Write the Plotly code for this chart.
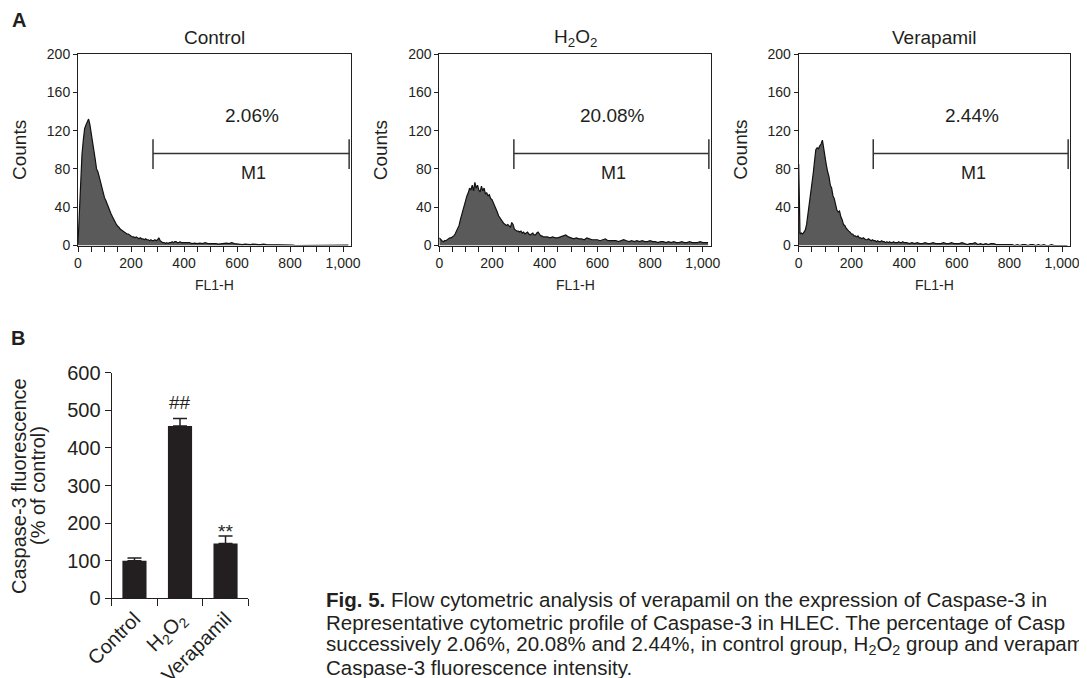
import plotly.graph_objects as go

# ---------------- data ----------------
# FL1-H channels: fine bins up to 395, coarser after
channels_fine = list(range(0, 400, 5))
channels_coarse = list(range(400, 1030, 10))
channels = channels_fine + channels_coarse

control_counts = [
    2, 35, 72, 95, 110, 122, 126, 129, 132, 126,
    118, 108, 100, 90, 80, 77, 72, 66, 61, 54,
    50, 47, 43, 39, 35, 33, 30, 27, 25, 22,
    20, 19, 17, 16, 15, 14, 13, 12, 12, 11,
    10, 9, 9, 8, 9, 8, 7, 8, 7, 7,
    6, 7, 6, 6, 5, 6, 5, 5, 6, 5,
    6, 8, 5, 4, 3, 3, 2, 3, 2, 3,
    3, 4, 3, 4, 4, 3, 3, 4, 3, 3,
    # 400 .. 1020 step 10
    3, 2.5, 3, 2, 2.5, 2, 2.5, 2, 3, 2,
    2, 2.5, 2, 1.5, 2, 2, 2.5, 2, 3, 2,
    1.5, 1.5, 1, 1.5, 1, 1, 1.5, 1, 1, 1,
    1.5, 1, 1, 1, 0.5, 1, 1, 0.5, 1, 0.5,
    0.5, 0.5, 0, 0, 0.5, 0, 0.5, 0, 0, 0,
    0, 0, 0.5, 0, 0.5, 0, 0.5, 0, 0, 0.5,
    0, 0, 0.5,
]

h2o2_counts = [
    8, 6, 5, 4, 5, 5, 6, 7, 8, 8,
    9, 10, 12, 15, 18, 21, 27, 32, 38, 43,
    47, 52, 55, 60, 58, 63, 57, 66, 60, 63,
    58, 56, 62, 57, 60, 54, 55, 52, 53, 49,
    48, 45, 42, 38, 35, 31, 29, 26, 25, 23,
    22, 21, 22, 20, 19, 24, 22, 17, 16, 15,
    15, 14, 15, 13, 14, 12, 13, 14, 12, 11,
    12, 13, 11, 11, 13, 14, 12, 10, 10, 9,
    # 400 .. 1020 step 10
    9, 9, 8, 9, 8, 8, 9, 10, 11, 9,
    8, 7, 8, 7, 7, 6, 8, 7, 6, 6,
    6, 5, 6, 7, 5, 5, 5, 5, 4, 5,
    6, 5, 4, 5, 4, 5, 4, 5, 4, 4,
    5, 4, 4, 3, 4, 4, 3, 4, 3, 4,
    3, 3, 4, 3, 3, 4, 3, 3, 3, 4,
    3, 3, 3,
]

verapamil_counts = [
    85, 12, 13, 12, 14, 16, 22, 32, 42, 55,
    63, 75, 88, 100, 102, 101, 104, 106, 110, 100,
    93, 84, 77, 72, 63, 60, 52, 49, 43, 37,
    35, 36, 30, 27, 22, 21, 18, 16, 15, 14,
    12, 12, 10, 10, 9, 10, 8, 8, 7, 8,
    7, 6, 6, 7, 6, 5, 6, 5, 5, 4,
    5, 4, 4, 5, 4, 4, 3, 4, 3, 4,
    3, 3, 4, 3, 3, 3, 4, 3, 3, 4,
    # 400 .. 1020 step 10
    3, 3, 2, 3, 2, 3, 2, 2, 3, 2,
    2, 3, 2, 2, 2, 3, 2, 2, 3, 2,
    2, 2, 3, 2, 1, 2, 2, 3, 1, 2,
    1, 2, 1, 2, 2, 1, 1, 1, 1, 1,
    1, 1, 0, 1, 0, 1, 1, 0, 1, 1,
    0, 1, 0, 1, 0, 0, 1, 0, 0, 0,
    0, 0, 0,
]

panel_titles = ["Control", "H<sub>2</sub>O<sub>2</sub>", "Verapamil"]
m1_percent = ["2.06%", "20.08%", "2.44%"]
m1_start = 283
m1_end = 1023
m1_level = 96
m1_bar_low = 80
m1_bar_high = 111
m1_pct_pos = (657, 136)
m1_label_pos = (662, 76)

bar_categories = ["Control", "H<sub>2</sub>O<sub>2</sub>", "Verapamil"]
bar_values = [100, 458, 146]
bar_errors = [7, 20, 20]
bar_marks = ["", "##", "**"]

caption_lines = [
    "<b>Fig. 5.</b> Flow cytometric analysis of verapamil on the expression of Caspase-3 in",
    "Representative cytometric profile of Caspase-3 in HLEC. The percentage of Casp",
    "successively 2.06%, 20.08% and 2.44%, in control group, H<sub>2</sub>O<sub>2</sub> group and verapam",
    "Caspase-3 fluorescence intensity.",
]

# ---------------- layout helpers ----------------
W, H = 1087, 678
OFF = 8  # page body margin in the browser
FONT = "Liberation Sans, Arial, Helvetica, sans-serif"
INK = "#231f20"


def px(x):
    return (x - OFF) / W


def py(y):
    return 1 - (y - OFF) / H


hist_x_domains = [(78, 351), (439.3, 710.7), (798.7, 1070)]
hist_y_domain = (54, 245.5)
series = [control_counts, h2o2_counts, verapamil_counts]

fig = go.Figure()
layout = dict(
    width=W, height=H,
    margin=dict(l=0, r=0, t=0, b=0, pad=0, autoexpand=False),
    paper_bgcolor="white", plot_bgcolor="white",
    showlegend=False,
    font=dict(family=FONT, color=INK),
)
annotations = []
shapes = []

for i, (counts, (x0, x1)) in enumerate(zip(series, hist_x_domains)):
    n = i + 1
    xa = "x" if n == 1 else f"x{n}"
    ya = "y" if n == 1 else f"y{n}"
    fig.add_trace(go.Scatter(
        x=channels, y=counts, xaxis=xa, yaxis=ya, mode="lines",
        fill="tozeroy", fillcolor="#5a5a5a",
        line=dict(color="#111111", width=1.2), hoverinfo="skip",
    ))
    layout["xaxis" if n == 1 else f"xaxis{n}"] = dict(
        domain=[px(x0), px(x1)], anchor=ya, range=[0, 1030], automargin=False,
        tickmode="linear", tick0=0, dtick=200, tickformat=",d",
        ticks="outside", ticklen=5, tickwidth=1, tickcolor=INK,
        minor=dict(dtick=50, ticks="outside", ticklen=5, tickwidth=1, tickcolor=INK),
        showline=True, linecolor=INK, linewidth=1, mirror=True,
        showgrid=False, zeroline=False,
        tickfont=dict(size=14, color=INK, family=FONT),
    )
    layout["yaxis" if n == 1 else f"yaxis{n}"] = dict(
        domain=[py(hist_y_domain[1]), py(hist_y_domain[0])], anchor=xa, automargin=False,
        range=[0, 200], tickmode="linear", tick0=0, dtick=40,
        ticks="outside", ticklen=4, tickwidth=1, tickcolor=INK,
        showline=True, linecolor=INK, linewidth=1, mirror=True,
        showgrid=False, zeroline=False,
        tickfont=dict(size=14, color=INK, family=FONT),
    )
    cx = (x0 + x1) / 2
    # title
    annotations.append(dict(text=panel_titles[i], xref="paper", yref="paper",
                            x=px(cx), y=py(38), xanchor="center", yanchor="middle",
                            showarrow=False, font=dict(size=19, color=INK)))
    # Counts
    annotations.append(dict(text="Counts", xref="paper", yref="paper",
                            x=px(x0 - 58), y=py(150), xanchor="center", yanchor="middle",
                            textangle=-90, showarrow=False, font=dict(size=19, color=INK)))
    # FL1-H
    annotations.append(dict(text="FL1-H", xref="paper", yref="paper",
                            x=px(cx), y=py(285), xanchor="center", yanchor="middle",
                            showarrow=False, font=dict(size=14, color=INK)))
    # M1 marker
    line_style = dict(color="#333333", width=1.5)
    shapes.append(dict(type="line", xref=xa, yref=ya, x0=m1_start, x1=m1_end,
                       y0=m1_level, y1=m1_level, line=line_style))
    for xe in (m1_start, m1_end):
        shapes.append(dict(type="line", xref=xa, yref=ya, x0=xe, x1=xe,
                           y0=m1_bar_low, y1=m1_bar_high, line=line_style))
    annotations.append(dict(text=m1_percent[i], xref=xa, yref=ya,
                            x=m1_pct_pos[0], y=m1_pct_pos[1], xanchor="center", yanchor="middle",
                            showarrow=False, font=dict(size=19, color=INK)))
    annotations.append(dict(text="M1", xref=xa, yref=ya,
                            x=m1_label_pos[0], y=m1_label_pos[1], xanchor="center", yanchor="middle",
                            showarrow=False, font=dict(size=18, color=INK)))

# ---------------- panel B ----------------
fig.add_trace(go.Bar(
    x=bar_categories, y=bar_values, xaxis="x4", yaxis="y4", width=0.53,
    marker=dict(color=INK, line=dict(width=0)),
    error_y=dict(type="data", symmetric=False, array=bar_errors,
                 arrayminus=[0] * len(bar_errors), color=INK, thickness=1.5, width=7),
    hoverinfo="skip",
))
layout["xaxis4"] = dict(
    domain=[px(111.7), px(248.3)], anchor="y4", type="category", automargin=False,
    categoryorder="array", categoryarray=bar_categories, range=[-0.5, 2.5],
    tickson="boundaries", ticks="outside", ticklen=7, tickwidth=1.2, tickcolor=INK,
    showline=True, linecolor=INK, linewidth=1.2, showgrid=False, zeroline=False,
    tickangle=-45, tickfont=dict(size=20, color=INK, family=FONT),
)
layout["yaxis4"] = dict(
    domain=[py(598.3), py(372.7)], anchor="x4", range=[0, 600], automargin=False,
    tickmode="linear", tick0=0, dtick=100,
    ticks="outside", ticklen=6, tickwidth=1.2, tickcolor=INK,
    showline=True, linecolor=INK, linewidth=1.2, showgrid=False, zeroline=False,
    tickfont=dict(size=20, color=INK, family=FONT),
)
for cat, v, e, mark in zip(bar_categories, bar_values, bar_errors, bar_marks):
    if mark:
        annotations.append(dict(text=mark, xref="x4", yref="y4", x=cat, y=v + e,
                                xanchor="center", yanchor="bottom",
                                yshift=4 if mark == "##" else -8,
                                showarrow=False, font=dict(size=19, color=INK)))
annotations.append(dict(text="Caspase-3 fluorescence", xref="paper", yref="paper",
                        x=px(19), y=py(486), xanchor="center", yanchor="middle",
                        textangle=-90, showarrow=False, font=dict(size=20, color=INK)))
annotations.append(dict(text="(% of control)", xref="paper", yref="paper",
                        x=px(38), y=py(486), xanchor="center", yanchor="middle",
                        textangle=-90, showarrow=False, font=dict(size=20, color=INK)))

# panel letters
annotations.append(dict(text="<b>A</b>", xref="paper", yref="paper", x=px(19), y=py(20),
                        xanchor="center", yanchor="middle", showarrow=False,
                        font=dict(size=20, color=INK)))
annotations.append(dict(text="<b>B</b>", xref="paper", yref="paper", x=px(18), y=py(338),
                        xanchor="center", yanchor="middle", showarrow=False,
                        font=dict(size=20, color=INK)))

# caption
caption_centers = [599.6, 622.3, 644.9, 667.6]
for line, cy in zip(caption_lines, caption_centers):
    annotations.append(dict(text=line, xref="paper", yref="paper", x=px(324), y=py(cy),
                            xanchor="left", yanchor="middle", showarrow=False,
                            font=dict(size=20.5, color=INK)))

layout["annotations"] = annotations
layout["shapes"] = shapes
fig.update_layout(**layout)
fig.write_html("out.html")
